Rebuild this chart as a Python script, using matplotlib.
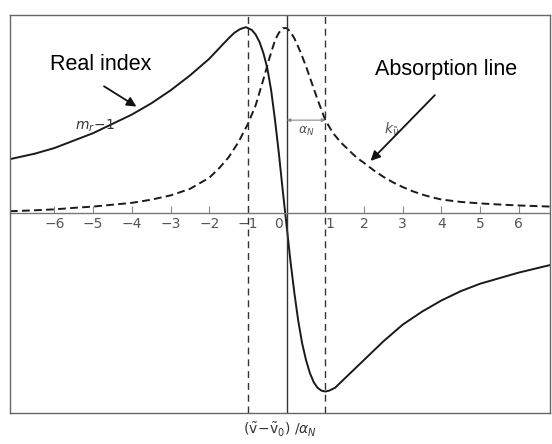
import matplotlib.pyplot as plt
from matplotlib.transforms import ScaledTranslation

# values (peak height of the absorption line = 1)
x_abs = [-7.15, -6.5, -6, -5.5, -5, -4.5, -4, -3.5, -3, -2.5, -2, -1.75, -1.5, -1.25, -1,
         -0.8, -0.6, -0.45, -0.3, -0.2, -0.1, 0, 0.1, 0.2, 0.35, 0.5, 0.65, 0.8, 1, 1.2,
         1.4, 1.6, 1.8, 2, 2.25, 2.5, 2.75, 3, 3.25, 3.5, 3.75, 4, 4.5, 5, 5.5, 6, 6.8]
k_abs = [0.01, 0.015, 0.02, 0.028, 0.035, 0.045, 0.055, 0.072, 0.095, 0.13, 0.19, 0.24, 0.3,
         0.38, 0.48, 0.58, 0.72, 0.83, 0.93, 0.97, 0.995, 0.995, 0.975, 0.94, 0.87, 0.79, 0.7,
         0.61, 0.5, 0.43, 0.38, 0.34, 0.3, 0.27, 0.23, 0.195, 0.165, 0.14, 0.118, 0.1, 0.085,
         0.073, 0.06, 0.052, 0.046, 0.041, 0.035]

x_real = [-7.15, -6.5, -6, -5.5, -5, -4.5, -4, -3.5, -3, -2.5, -2, -1.75, -1.5, -1.35, -1.2,
          -1.05, -0.9, -0.8, -0.7, -0.6, -0.5, -0.4, -0.3, -0.2, -0.1, 0, 0.1, 0.2, 0.3, 0.4,
          0.5, 0.6, 0.7, 0.8, 0.9, 1.0, 1.1, 1.25, 1.4, 1.6, 1.8, 2, 2.25, 2.5, 3, 3.5, 4,
          4.5, 5, 5.5, 6, 6.8]
m_real = [0.29, 0.32, 0.35, 0.39, 0.43, 0.48, 0.53, 0.59, 0.66, 0.74, 0.83, 0.885, 0.94, 0.97,
          0.99, 1.0, 0.985, 0.96, 0.92, 0.86, 0.78, 0.66, 0.5, 0.32, 0.12, -0.07, -0.26, -0.43,
          -0.58, -0.7, -0.79, -0.86, -0.91, -0.94, -0.955, -0.96, -0.955, -0.94, -0.91, -0.87,
          -0.83, -0.79, -0.74, -0.69, -0.6, -0.53, -0.47, -0.42, -0.38, -0.35, -0.32, -0.28]

ticks = [-6, -5, -4, -3, -2, -1, 0, 1, 2, 3, 4, 5, 6]
half_width = [-1, 1]

fig = plt.figure(figsize=(5.52, 4.44), dpi=100)
ax = fig.add_axes([0.018, 0.07, 0.978, 0.896])
plt.rcParams['mathtext.fontset'] = 'dejavusans'

ax.plot(x_real, m_real, color='#1a1a1a', lw=1.4)
ax.plot(x_abs, k_abs, color='#1a1a1a', lw=1.4, ls=(0, (4, 2.2)))
for xv in half_width:
    ax.axvline(xv, color='#333333', lw=1.0, ls=(0, (5, 3.5)))
ax.axvline(0, color='#333333', lw=1.0)
ax.axhline(0, color='#777777', lw=1.0)

ax.set_xlim(-7.15, 6.8)
ax.set_ylim(-1.075, 1.065)
ax.set_xticks([])
ax.set_yticks([])
for s in ax.spines.values():
    s.set_color('#666666')
    s.set_linewidth(1.0)

# tick marks and numbers sitting on the zero line
frac = 1.075 / (1.075 + 1.065)
sec = ax.secondary_xaxis(frac)
sec.set_xticks(ticks, [str(t) if t >= 0 else '\u2212' + str(-t) for t in ticks])
for s in sec.spines.values():
    s.set_visible(False)
sec.tick_params(bottom=True, top=False, labelbottom=True, labeltop=False,
                direction='in', length=5, width=0.8, color='#888888',
                labelcolor='#555555', labelsize=10, pad=3)
for t, tk in zip(ticks, sec.xaxis.get_major_ticks()):
    if t == 0:
        tk.label1.set_transform(tk.label1.get_transform() + ScaledTranslation(-8 / 100, 0, fig.dpi_scale_trans))
    if t == 1:
        tk.label1.set_transform(tk.label1.get_transform() + ScaledTranslation(5 / 100, 0, fig.dpi_scale_trans))

ax.set_xlabel(r'$(\tilde{\mathrm{v}}\!-\!\tilde{\mathrm{v}}_0)\ /\alpha_N$', fontsize=10,
              color='#333333', labelpad=6)

ax.annotate('', xy=(0, 0.5), xytext=(1, 0.5),
            arrowprops=dict(arrowstyle='<|-|>', color='#888888', lw=0.8,
                            mutation_scale=5, shrinkA=0, shrinkB=0))
ax.text(0.5, 0.44, r'$\alpha_N$', fontsize=9, color='#555555', ha='center', va='center')
ax.text(2.7, 0.45, r'$k_{\tilde{\nu}}$', fontsize=10, color='#555555', ha='center', va='center')
ax.text(-4.95, 0.47, r'$m_r\!-\!1$', fontsize=10, color='#333333', ha='center', va='center')

ax.text(-4.8, 0.8, 'Real index', fontsize=15.5, family='Liberation Sans', ha='center', va='center')
ax.annotate('', xy=(-3.82, 0.565), xytext=(-4.78, 0.69),
            arrowprops=dict(arrowstyle='-|>', color='#111111', lw=1.3, mutation_scale=14))
ax.text(4.13, 0.77, 'Absorption line', fontsize=15.5, family='Liberation Sans', ha='center', va='center')
ax.annotate('', xy=(2.12, 0.27), xytext=(3.88, 0.645),
            arrowprops=dict(arrowstyle='-|>', color='#111111', lw=1.3, mutation_scale=14))

fig.savefig('out.png', dpi=100)
